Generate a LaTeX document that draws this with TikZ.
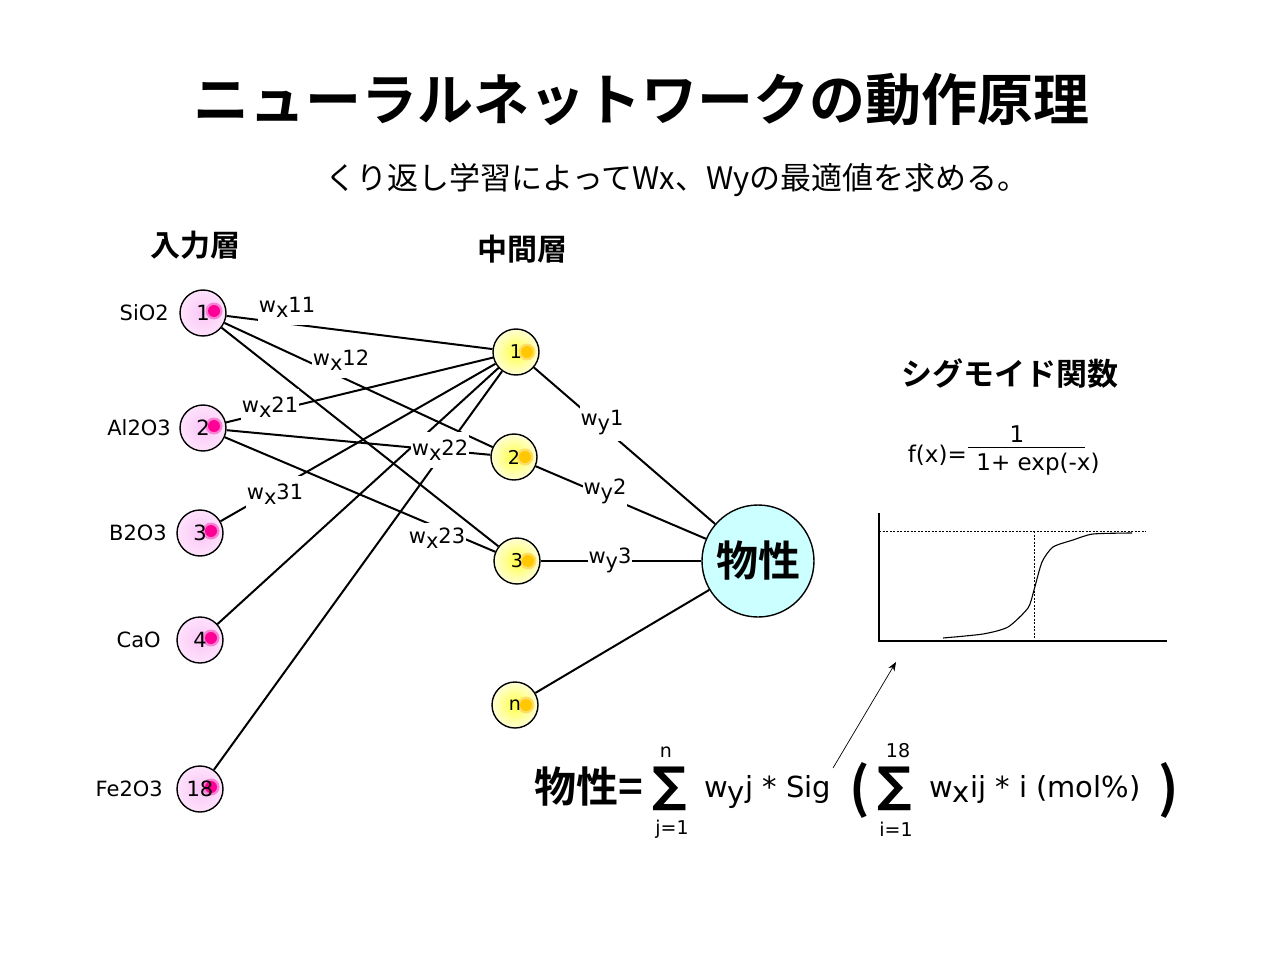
\documentclass[tikz,border=0pt]{standalone}
\usepackage{fontspec}
\setmainfont{Noto Sans CJK JP}[BoldFont={Noto Sans CJK JP Bold}]
\newfontfamily\symfont{DejaVu Sans}
\newfontfamily\latf{DejaVu Sans}
\usetikzlibrary{arrows.meta,positioning}
\definecolor{inPink}{RGB}{250,198,246}
\definecolor{inPinkL}{RGB}{254,226,252}
\definecolor{inDot}{RGB}{255,0,150}
\definecolor{inDotL}{RGB}{248,130,212}
\definecolor{midY}{RGB}{255,255,70}
\definecolor{midYL}{RGB}{255,255,214}
\definecolor{midDot}{RGB}{255,200,0}
\definecolor{outC}{RGB}{204,255,255}
\newcommand\wsym[2]{w\raisebox{-5pt}{#1}#2}
\newcommand\fsz[1]{\fontsize{#1}{#1}\selectfont}

\begin{document}
\begin{tikzpicture}[
  x=1pt, y=-1pt,
  inode/.style={circle, draw=black, line width=1.4pt, minimum size=46pt, inner sep=0pt,
    shading=radial, inner color=inPink, outer color=inPinkL, font=\latf\fsz{21},
    path picture={\fill[inDotL] (path picture bounding box.center) ++(11pt,2pt) circle (8.5pt);
                  \fill[inDot] (path picture bounding box.center) ++(11pt,2pt) circle (6pt);}},
  hnode/.style={circle, draw=black, line width=1.4pt, minimum size=46pt, inner sep=0pt,
    shading=radial, inner color=midY, outer color=midYL, font=\latf\fsz{19},
    path picture={\fill[midDot!60] (path picture bounding box.center) ++(11pt,0pt) circle (8.5pt);
                  \fill[midDot] (path picture bounding box.center) ++(11pt,0pt) circle (6pt);}},
  onode/.style={circle, draw=black, line width=1.4pt, fill=outC, minimum size=112pt, inner sep=0pt,
    font=\fsz{42}\bfseries},
  wlab/.style={fill=white, inner xsep=1pt, inner ysep=0pt, minimum height=36pt, font=\latf\fsz{21}},
  nlab/.style={font=\latf\fsz{21}},
  head/.style={font=\fsz{30}\bfseries},
  link/.style={line width=2pt},
  eqtext/.style={font=\latf\fsz{29}, anchor=base west},
  sumsign/.style={font=\symfont\bfseries\fsz{48}, inner sep=0pt},
  limit/.style={font=\latf\fsz{19}, inner sep=0pt}]

  \useasboundingbox (0,0) rectangle (1280,960);

  % titles
  \node[font=\fsz{56}\bfseries] (title) at (641,100) {ニューラルネットワークの動作原理};
  \node[font=\fsz{31}] (subtitle) at (677,180) {くり返し学習によってWx、Wyの最適値を求める。};
  \node[head] (hin) at (195,245) {入力層};
  \node[head] (hmid) at (522,249) {中間層};

  % input layer
  \node[inode] (i1) at (203,313) {1};
  \node[inode] (i2) at (203,428) {2};
  \node[inode] (i3) at (200,533) {3};
  \node[inode] (i4) at (200,640) {4};
  \node[inode] (i18) at (200,789) {18};
  \node[nlab, left=7pt of i1] (lSiO) {SiO2};
  \node[nlab, left=5pt of i2] (lAlO) {Al2O3};
  \node[nlab, left=6pt of i3] (lBO) {B2O3};
  \node[nlab, left=12pt of i4] (lCaO) {CaO};
  \node[nlab, left=10pt of i18] (lFeO) {Fe2O3};

  % hidden layer
  \node[hnode] (h1) at (516,352) {1};
  \node[hnode] (h2) at (514,457) {2};
  \node[hnode] (h3) at (517,561) {3};
  \node[hnode] (hn) at (515,705) {n};

  % output
  \node[onode] (out) at (758,561) {物性};

  % input -> hidden
  \draw[link] (i1) -- (h1);
  \draw[link] (i1) -- (h2);
  \draw[link] (i1) -- (h3);
  \draw[link] (i2) -- (h1);
  \draw[link] (i2) -- (h2);
  \draw[link] (i2) -- (h3);
  \draw[link] (i3) -- (h1);
  \draw[link] (i4) -- (h1);
  \draw[link] (i18) -- (h1);

  % hidden -> output
  \draw[link] (h1) -- (out);
  \draw[link] (h2) -- (out);
  \draw[link] (h3) -- (out);
  \draw[link] (hn) -- (out);

  % weights (white boxes break the lines)
  \node[wlab] (wx11) at (287,307) {\wsym{x}{11}};
  \node[wlab] (wx12) at (341,360) {\wsym{x}{12}};
  \node[wlab] (wx21) at (270,407) {\wsym{x}{21}};
  \node[wlab] (wx22) at (440,450) {\wsym{x}{22}};
  \node[wlab] (wx31) at (275,494) {\wsym{x}{31}};
  \node[wlab, minimum height=30pt] (wx23) at (437,538) {\wsym{x}{23}};
  \node[wlab] (wy1) at (602,423) {\wsym{y}{1}};
  \node[wlab] (wy2) at (605,491) {\wsym{y}{2}};
  \node[wlab, minimum height=20pt] (wy3) at (610,560) {\wsym{y}{3}};

  % sigmoid panel
  \node[head, font=\fsz{31}\bfseries] (hsig) at (1010,374) {シグモイド関数};
  \node[font=\latf\fsz{23}, anchor=east, inner sep=1pt] (fx) at (968,455) {f(x)=};
  \node[font=\latf\fsz{23}] (fnum) at (1017,434) {1};
  \node[font=\latf\fsz{23}] (fden) at (1038,464) {1+ exp(-x)};
  \coordinate (barL) at (968,447);
  \coordinate (barR) at (1085,447);
  \draw[line width=1pt] (barL) -- (barR);

  \coordinate (org) at (879,641);
  \draw[line width=1.1pt] (879,513) -- (org) -- (1167,641);
  \draw[line width=0.6pt, dash pattern=on 2pt off 1.5pt] (879,531) -- (1146,531);
  \draw[line width=0.6pt, dash pattern=on 2pt off 1.5pt] (1034,531) -- (1034,641);
  \draw[line width=1.1pt] plot[smooth, tension=0.4] coordinates {(943,638) (983,634) (1008,627)
    (1028,608) (1034,590) (1042,562) (1053,547) (1073,540) (1093,534) (1132,533)};

  % formula
  \node[font=\fsz{42}\bfseries, anchor=base west, inner sep=0pt] (fprop) at (534,802) {物性=};
  \node[sumsign] (sum1) at (670,789) {∑};
  \node[limit] (sum1t) at (666,752) {n};
  \node[limit] (sum1b) at (672,829) {j=1};
  \node[eqtext, inner sep=0pt] (fsig) at (704,797) {w\raisebox{-5pt}{y}j * Sig};
  \node[font=\fsz{54}\bfseries, inner sep=0pt] (lpar) at (860,790) {(};
  \node[sumsign] (sum2) at (895,789) {∑};
  \node[limit] (sum2t) at (898,751) {18};
  \node[limit] (sum2b) at (896,829) {i=1};
  \node[eqtext, inner sep=0pt] (fsum) at (929,797) {w\raisebox{-5pt}{x}ij * i (mol\%)};
  \node[font=\fsz{54}\bfseries, inner sep=0pt] (rpar) at (1169,790) {)};

  \coordinate (sigtip) at (833,768);
  \coordinate (plotfoot) at (896,662);
  \draw[line width=0.7pt, -{Stealth[length=9pt, width=7pt]}] (sigtip) -- (plotfoot);
\end{tikzpicture}
\end{document}
